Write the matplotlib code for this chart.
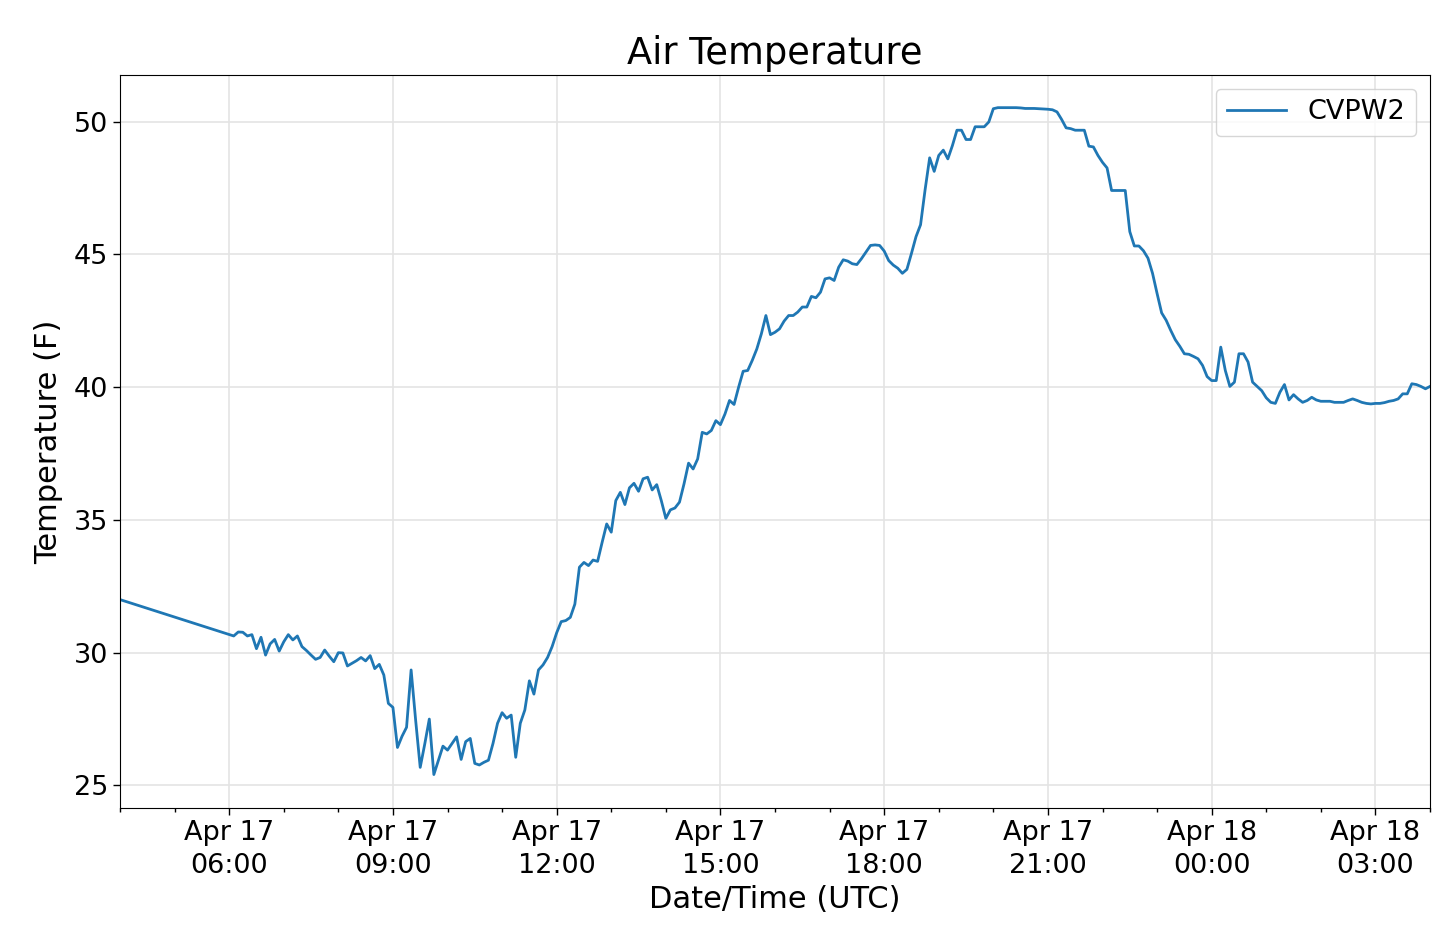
import matplotlib
matplotlib.use("Agg")
import matplotlib.pyplot as plt
import matplotlib.dates as mdates
import pandas as pd
import numpy as np

# ---- data ----
first_time = "2019-04-17 04:00"
first_temp = 32.0
start_regular = "2019-04-17 06:05"   # 5-minute samples from here on
step = "5min"

temp_early_morning = [  # 06:05 - 12:05
    30.63, 30.78, 30.77, 30.63, 30.68, 30.15, 30.58, 29.91, 30.33, 30.50,
    30.06, 30.41, 30.68, 30.48, 30.63, 30.23, 30.08, 29.91, 29.75, 29.82,
    30.10, 29.87, 29.66, 30.00, 29.99, 29.50, 29.60, 29.70, 29.82, 29.69,
    29.89, 29.40, 29.56, 29.16, 28.09, 27.94, 26.43, 26.85, 27.19, 29.35,
    27.45, 25.68, 26.56, 27.50, 25.41, 25.95, 26.48, 26.33, 26.58, 26.83,
    25.98, 26.65, 26.77, 25.83, 25.77, 25.87, 25.95, 26.58, 27.34, 27.74,
    27.53, 27.65, 26.06, 27.34, 27.84, 28.94, 28.44, 29.35, 29.54, 29.82,
    30.23, 30.75, 31.17]
temp_midday = [  # 12:10 - 17:20
    31.21, 31.33, 31.83, 33.22, 33.40, 33.28, 33.49, 33.44, 34.16, 34.85,
    34.54, 35.73, 36.04, 35.58, 36.21, 36.38, 36.08, 36.55, 36.61, 36.13,
    36.33, 35.73, 35.06, 35.38, 35.45, 35.67, 36.36, 37.14, 36.92, 37.30,
    38.30, 38.24, 38.37, 38.74, 38.59, 38.99, 39.50, 39.35, 40.00, 40.60,
    40.63, 41.01, 41.44, 42.01, 42.70, 41.98, 42.07, 42.20, 42.49, 42.70,
    42.70, 42.83, 43.02, 43.02, 43.42, 43.37, 43.58, 44.08, 44.12, 44.02,
    44.52, 44.80, 44.75]
temp_evening = [  # 17:25 - 18:00
    44.65, 44.62, 44.84, 45.09, 45.34, 45.36, 45.34, 45.13]
temp_night = [  # 18:05 - 23:25
    44.77, 44.60, 44.48, 44.29, 44.44, 45.04, 45.67, 46.12, 47.44, 48.64,
    48.13, 48.73, 48.93, 48.60, 49.10, 49.68, 49.68, 49.33, 49.33, 49.81,
    49.81, 49.81, 49.99, 50.49, 50.53, 50.53, 50.53, 50.53, 50.53, 50.52,
    50.50, 50.50, 50.50, 50.49, 50.48, 50.47, 50.45, 50.37, 50.09, 49.77,
    49.74, 49.68, 49.68, 49.68, 49.08, 49.05, 48.73, 48.47, 48.26, 47.41,
    47.41, 47.41, 47.41, 45.86, 45.32, 45.32, 45.14, 44.86, 44.29, 43.53,
    42.80, 42.52, 42.14, 41.79, 41.54]
temp_late = [  # 23:30 - 04:00 (Apr 18)
    41.26, 41.24, 41.16, 41.07, 40.82, 40.40, 40.25, 40.25, 41.51, 40.63,
    40.03, 40.19, 41.26, 41.26, 40.95, 40.19, 40.03, 39.87, 39.60, 39.43,
    39.39, 39.81, 40.10, 39.52, 39.72, 39.56, 39.43, 39.50, 39.62, 39.52,
    39.47, 39.47, 39.47, 39.43, 39.43, 39.43, 39.50, 39.56, 39.50, 39.43,
    39.39, 39.37, 39.39, 39.39, 39.42, 39.47, 39.50, 39.56, 39.75, 39.75,
    40.13, 40.10, 40.03, 39.94, 40.03]

series_name = "CVPW2"
title = "Air Temperature"
xlabel = "Date/Time (UTC)"
ylabel = "Temperature (F)"

regular = temp_early_morning + temp_midday + temp_evening + temp_night + temp_late
times = [pd.Timestamp(first_time)] + list(pd.date_range(start_regular, periods=len(regular), freq=step))
temps = [first_temp] + regular

# ---- plot ----
W, H = 1436, 926
fig = plt.figure(figsize=(W / 100, H / 100), dpi=100)
ax = fig.add_axes([120 / W, 1 - 808 / H, (1430 - 120) / W, (808 - 75) / H])

ax.plot(times, temps, color="#1f77b4", lw=2.0, label=series_name)
ax.set_xlim(times[0], times[-1])
ax.set_ylim(24.15, 51.76)

ax.xaxis.set_major_locator(mdates.HourLocator(byhour=range(0, 24, 3)))
ax.xaxis.set_minor_locator(mdates.HourLocator())
ax.xaxis.set_major_formatter(mdates.DateFormatter("%b %d\n%H:%M"))
ax.set_yticks([25, 30, 35, 40, 45, 50])

ax.grid(True, which="major", color="#e4e4e4", lw=1.2)
ax.set_axisbelow(True)
ax.tick_params(axis="both", which="major", labelsize=19.5, length=5, width=1)
ax.tick_params(axis="both", which="minor", length=3, width=1)
fig.canvas.draw()
for t in ax.get_xticklabels():
    t.set_horizontalalignment("center")
    t.set_linespacing(1.36)

ax.set_title(title, fontsize=26.5, pad=8)
ax.set_xlabel(xlabel, fontsize=22, labelpad=4)
ax.set_ylabel(ylabel, fontsize=22, labelpad=8)

ax.legend(loc="upper right", fontsize=19.5, handlelength=2.2, borderaxespad=0.5)

fig.savefig("out.png", dpi=100)
